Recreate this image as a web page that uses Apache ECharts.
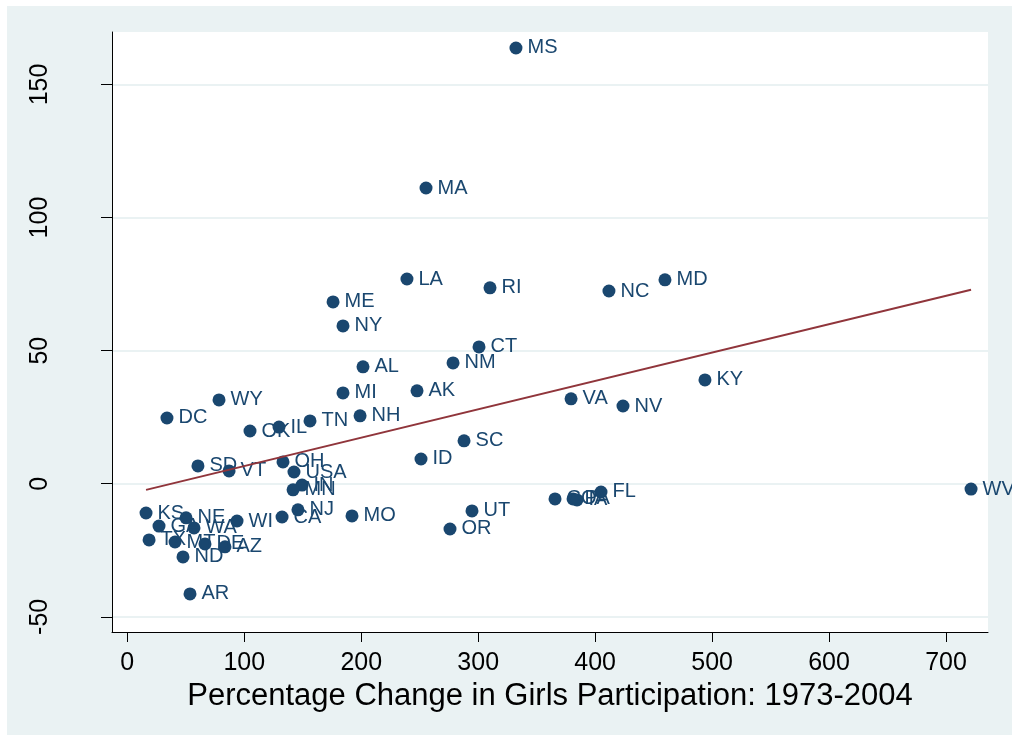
<!DOCTYPE html>
<html>
<head>
<meta charset="utf-8">
<script src="https://cdn.jsdelivr.net/npm/echarts@6/dist/echarts.min.js"></script>
<style>
  html, body { margin: 0; padding: 0; background: #fff; }
  #chart { position: absolute; left: 7px; top: 6px; width: 1005px; height: 729px; background: #eaf2f3; }
</style>
</head>
<body>
<div id="chart"></div>
<script>
// state codes, girls participation change (x) and outcome change (y)
const states = ['MS', 'MA', 'LA', 'RI', 'NC', 'MD', 'ME', 'NY', 'CT', 'NM',
  'AL', 'MI', 'AK', 'KY', 'VA', 'NV', 'WY', 'DC', 'NH', 'TN',
  'IL', 'OK', 'SC', 'ID', 'SD', 'VT', 'OH', 'USA', 'IN', 'MN',
  'KS', 'NE', 'GA', 'WA', 'WI', 'CA', 'NJ', 'MO', 'TX', 'MT',
  'DE', 'AZ', 'ND', 'AR', 'OR', 'UT', 'CO', 'PA', 'IA', 'FL', 'WV'];
const xVals = [332.3, 255.4, 239.1, 310.1, 411.8, 459.7, 175.9, 184.4, 300.7, 278.5,
  201.5, 184.4, 247.7, 493.9, 379.4, 423.8, 78.4, 33.9, 199.0, 156.2,
  129.7, 104.9, 287.9, 251.1, 60.4, 87.0, 133.1, 142.5, 149.4, 141.7,
  16.0, 50.2, 27.1, 57.0, 93.8, 132.3, 145.9, 192.1, 18.6, 40.8,
  66.4, 83.5, 47.6, 53.6, 275.9, 294.7, 365.7, 381.1, 384.5, 405.0, 721.4];
const yVals = [163.7, 111.1, 76.9, 73.6, 72.4, 76.6, 68.3, 59.3, 51.4, 45.4,
  43.9, 34.1, 34.9, 39.0, 31.9, 29.2, 31.5, 24.7, 25.5, 23.6,
  21.3, 19.8, 16.1, 9.3, 6.7, 4.8, 8.2, 4.4, -0.5, -2.3,
  -11.0, -12.8, -15.9, -16.6, -14.0, -12.5, -9.8, -12.1, -21.1, -21.9,
  -22.6, -23.7, -27.5, -41.4, -17.0, -10.2, -5.7, -5.7, -6.1, -3.1, -2.0];

// fitted line end points
const fitX = [16.0, 721.4];
const fitY = [-2.3, 72.9];

const xTicks = [0, 100, 200, 300, 400, 500, 600, 700];
const yTicks = [-50, 0, 50, 100, 150];

const navy = '#1a476f';
const font = 'Liberation Sans, Arial, sans-serif';

const chart = echarts.init(document.getElementById('chart'));

chart.setOption({
  animation: false,
  grid: { left: 105, top: 26, right: 24, bottom: 103, show: true, backgroundColor: '#fff', borderWidth: 0 },
  xAxis: {
    type: 'value',
    min: -13.1,
    max: 735.9,
    name: 'Percentage Change in Girls Participation: 1973-2004',
    nameLocation: 'middle',
    nameGap: 43,
    nameTextStyle: { fontFamily: font, fontSize: 31, color: '#000' },
    axisLine: { onZero: false, lineStyle: { color: '#000', width: 1 } },
    axisTick: { length: 10, customValues: xTicks, lineStyle: { color: '#000' } },
    axisLabel: { customValues: xTicks, margin: 19, fontFamily: font, fontSize: 25, color: '#000' },
    splitLine: { show: false }
  },
  yAxis: {
    type: 'value',
    min: -55.7,
    max: 169.7,
    axisLine: { show: true, onZero: false, lineStyle: { color: '#000', width: 1 } },
    axisTick: { show: true, length: 11, customValues: yTicks, lineStyle: { color: '#000' } },
    axisLabel: { customValues: yTicks, rotate: 90, margin: 72, fontFamily: font, fontSize: 25, color: '#000', align: 'center', verticalAlign: 'middle' },
    splitLine: { show: true, lineStyle: { color: '#eaf2f3', width: 2 } }
  },
  series: [
    {
      type: 'scatter',
      symbolSize: 13,
      itemStyle: { color: navy, opacity: 1 },
      label: {
        show: true,
        position: 'right',
        distance: 5,
        fontFamily: font,
        fontSize: 20,
        color: navy,
        formatter: p => p.name
      },
      data: states.map((s, i) => ({ name: s, value: [xVals[i], yVals[i]] })),
      z: 2
    },
    {
      type: 'line',
      symbol: 'none',
      lineStyle: { color: '#90353b', width: 2 },
      data: fitX.map((x, i) => [x, fitY[i]]),
      z: 3
    }
  ]
});
</script>
</body>
</html>
